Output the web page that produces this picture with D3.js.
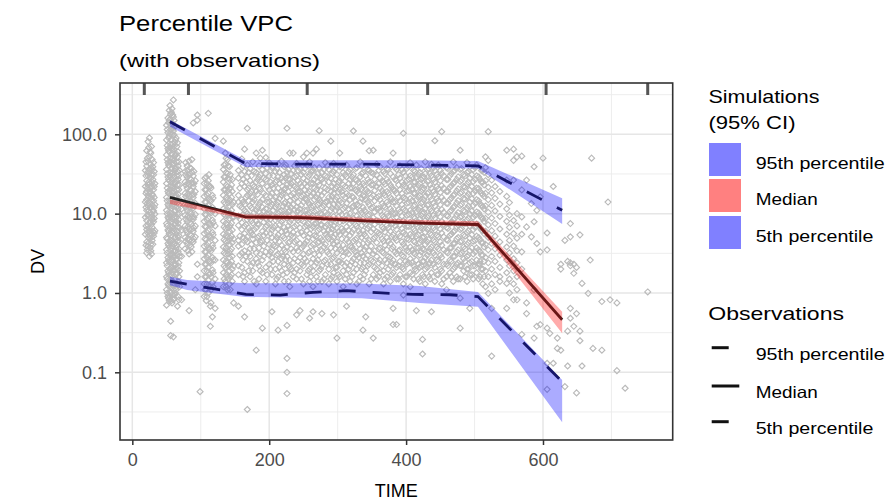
<!DOCTYPE html>
<html><head><meta charset="utf-8">
<script src="https://cdn.jsdelivr.net/npm/d3@7"></script>
<style>body{margin:0;background:#fff}svg{display:block}text{font-family:"Liberation Sans",Arial,sans-serif}</style>
</head><body><svg id="c" width="890" height="502"></svg>
<script>
// ---------- data ----------
const xBreaks = [0, 200, 400, 600];
const xMinor = [100, 300, 500, 700];
const yBreaks = [0.1, 1, 10, 100];
const yLabels = ["0.1", "1.0", "10.0", "100.0"];
const yMinor = [0.0316, 0.316, 3.16, 31.6, 316];
const binEdges = [17.5, 82, 255.5, 431.5, 604.5, 753];

// observed percentiles
const obs95T = [55, 165, 250, 335, 420, 505, 628];
const obs95V = [144, 43, 42, 42, 41, 40, 11];
const obs50T = [55, 165, 250, 340, 420, 505, 628];
const obs50V = [16, 9.1, 8.9, 8.1, 7.6, 7.3, 0.46];
const obs5T = [55, 116, 166, 216, 264, 313, 364, 410, 464, 505, 628];
const obs5V = [1.41, 1.14, 0.96, 0.94, 1.02, 1.07, 1.0, 0.96, 0.95, 0.90, 0.076];

// simulated 95% CI bands
const sim95T = [55, 165, 250, 335, 420, 505, 628];
const sim95Lo = [125, 38.7, 38, 38, 37.5, 37, 7.4];
const sim95Hi = [152, 47.4, 47, 47, 47, 46, 15.6];
const sim50T = [55, 165, 250, 335, 420, 505, 628];
const sim50Lo = [13.2, 8.55, 8.4, 7.8, 7.3, 6.9, 0.31];
const sim50Hi = [15.1, 9.75, 9.6, 8.9, 8.3, 8.0, 0.58];
const sim5T = [55, 80, 165, 250, 335, 420, 505, 628];
const sim5Lo = [1.25, 1.09, 0.89, 0.87, 0.86, 0.75, 0.67, 0.0235];
const sim5Hi = [1.6, 1.46, 1.33, 1.33, 1.32, 1.22, 1.03, 0.080];

// observations: [time, [DV values]]
const obsColumns = [
 [19,[5.5,9,14,22,35]],[20,[4,7,12,18,30,45]],
 [21,[3.2,4.4,6.3,8.2,11,15,19,26,40,62]],[22,[3.5,5.8,9.5,13.5,21,33,50]],
 [23,[3.9,5.1,7.1,9.6,12.5,17,23,30,46,81]],[24,[4.3,6.6,10.8,16,25,36,68]],
 [25,[2.9,4.8,6,7.6,10.2,13.5,18,24,33,52,90]],[26,[3.7,5.2,8,12,19,29,42,60]],
 [27,[3.4,4.1,5.6,8.8,11.8,16,21,28,38,58]],[28,[3.1,5,7.3,10,15,22,31,70]],
 [29,[4.6,6.7,9.2,12.8,17.5,25,36,48]],[30,[4.1,6,8.4,11,17,27,39]],
 [31,[5.2,7.9,10.8,14.5,20,31,44]],[32,[5.7,8.7,12,16,22,34]],
 [33,[6.1,9.9,13,24]],
 [50,[0.7,1.1,1.6,2.4,3.5,5,7.5,11,16,24,36,55,85,130]],
 [51,[1,1.5,2.2,3.2,4.8,7,10,14.5,21,32,48,72,115]],
 [52,[0.9,1.3,1.9,2.8,4.2,6.2,9,13,19,29,44,66,105,160]],
 [53,[0.85,1.25,1.8,2.6,4,6,8.6,12.5,18,27,41,62,90,140]],
 [54,[0.8,1.2,1.7,2.5,3.8,5.6,8.2,12,18,26,40,60,95,150,200]],
 [55,[0.9,1.35,2,3,4.4,6.4,9.4,14,20,30,45,68,100,155,230]],
 [56,[0.29,0.44,1,1.45,2.1,3.1,4.6,6.8,10,15,22,33,50,75,115,180]],
 [57,[0.8,1.2,1.7,2.5,3.7,5.4,8,11.6,17,25,37,56,85,128,190]],
 [58,[0.75,1.15,1.8,2.6,3.9,5.8,8.6,12.5,18.5,27,42,64,100,140,210]],
 [59,[0.95,1.4,2.1,3.1,4.6,6.8,10,15,22,33,50,76,118,175]],
 [60,[0.28,0.82,1.25,2,3,4.4,6.5,9.6,14,21,31,47,70,110,165,271]],
 [61,[0.85,1.3,1.9,2.8,4.1,6,9,13.3,19.5,29,43,65,98,150]],
 [62,[0.95,1.5,2.2,3.3,4.9,7.3,10.8,16,24,35,53,80,125]],
 [63,[1,1.5,2.3,3.4,5,7.5,11,16.5,25,37,55,85]],
 [64,[1.1,1.7,2.6,3.7,5.5,8,12,17,26,38,57,90]],
 [65,[1.2,1.8,2.7,4,6,9,13.5,20,30,45,70]],
 [66,[0.68,1.3,2,3,4.5,6.8,10,15,23,34,52,78]],
 [67,[0.9,1.4,2.2,3.3,5,7.6,11.5,17.5,27,40,60]],
 [68,[0.82,1.6,2.4,3.6,5.3,8.4,13,20,30,45]],
 [69,[1.2,1.9,2.9,4.4,6.6,10,15,23,35]],
 [72,[0.82,2.9,6.2,11.5]],
 [77,[3.6,5,7,9.5,13,18,25,34]],[78,[4.5,6.2,8.6,12,16.5,23,31,44]],
 [80,[4.2,5.8,8,11,15,21,29,40]],[81,[3.4,4.8,6.8,9.3,13,17.5,24,35]],
 [83,[0.6,3.1,4.6,6.4,8.8,12,16.5,23,31,46]],[84,[4,5.5,7.7,10.6,14.5,20,28,38]],
 [86,[3.8,5.3,7.4,10,14,19.5,27,37]],[87,[3.3,4.6,6.4,9,12.5,17,24,33,48]],
 [89,[4.4,6,8.5,11.8,16,22,30,139]],[90,[4.8,6.6,9,12.6,17.5,24,34]],
 [92,[1.1,5.1,7,9.8,13.5,19,26]],
 [95,[1.6,2.3,151,175]],
 [99,[0.057]],
 [105,[0.9,1.3,1.9,2.7,3.9,5.6,8,11.5,16.5,24]],[106,[1.1,1.6,2.3,3.3,4.8,6.9,9.8,14,20,28]],
 [108,[0.8,1.1,1.6,2.3,3.3,4.7,6.8,9.7,14,20,29]],[109,[0.9,1.3,1.9,2.8,4,5.8,8.3,12,17,24]],
 [111,[1,1.45,2.1,3,4.3,6.1,8.8,12.6,18,26,184]],[112,[1.2,1.7,2.5,3.6,5.2,7.5,10.8,15.5,22,31]],
 [114,[0.38,0.68,1.2,1.75,2.5,3.6,5.2,7.4,10.6,15,22]],[115,[0.75,1.1,1.6,2.4,3.4,5,7.1,10.2,14.5,21]],
 [117,[0.5,1.35,1.95,2.8,4,5.8,8.3,12,17]],[118,[1.2,1.8,2.6,3.7,5.4,7.7,11,15.7]],
 [121,[0.64,1.5,2.6,4.6,7,10,89]],
 [133,[1.2,1.8,2.6,3.8,5.5,8,11.5,17,25,36,82]],[134,[1.5,2.2,3.2,4.7,6.8,9.8,14,20,29,41]],
 [136,[1.4,2.1,3.1,4.5,6.5,9.5,13.5,20,29,42,58]],[137,[1.2,1.7,2.5,3.7,5.3,7.6,11,16,23,33,50]],
 [139,[1.1,1.6,2.4,3.4,5,7.2,10.5,15,22,32,48]],[140,[1.5,2.2,3.1,4.5,6.6,9.5,13.7,19.5,28,40]],
 [142,[1.3,1.9,2.8,4.1,6,8.7,12.5,18,27,39]],[143,[1.1,1.6,2.3,3.4,4.9,7.1,10.2,14.8,21,31]],
 [145,[1.7,2.5,3.6,5.2,7.6,11,16,23]],[146,[1.4,2,2.9,4.3,6.2,9,13,19,27]],
 [148,[0.75,2.2,4.8,9,14]],
 [155,[0.68,1.7,2.2,3.9,4.6,7.1,9.3,14,17,28,35]],[157,[3,5.2,8.6,12.5,21]],
 [160,[2.1,3.2,4.1,6.3,7.7,12,15,24,31,49]],[162,[1.6,2.6,5,9.8,14,27,40]],
 [164,[0.5,1.4,1.8,3.4,5.6,6.9,11,13,22,34,65]],[166,[2.9,4.7,7.3,10.5,16,25]],
 [168,[0.034,2.5,4.4,5.1,8.4,10,17,20,29,41,119]],[170,[1.9,3.2,6.6,9,14.5,21,33]],
 [172,[1.6,2.9,3.6,6.1,9.2,12.5,18,26,37]],[174,[2.2,4.1,5.8,8.1,11.8,19,30]],
 [176,[1.9,2.4,4.8,5.4,7.6,14,16,23,45]],[178,[1.4,3.6,6.3,10.2,15,22,34]],
 [181,[0.19,1.3,2.7,3.2,4.3,6.6,8.1,11,19,25,33,58]],[183,[2.4,5,7.4,12,17.5,27]],
 [185,[1.5,2.2,3.7,5.2,7.3,10.5,13,21,29,40]],[187,[1.9,3.1,4.4,9.3,14,20.5,31,50]],
 [190,[0.36,1.8,2.6,4.5,6,9,12,15,24,36,63]],[192,[2.9,3.9,5.3,7.8,10.8,18,28]],
 [195,[1.4,2.1,3.3,5.7,6.8,8.6,11.5,17,27,32,51]],[197,[1.7,4.6,7.1,9.9,14,22,38]],
 [200,[2.3,3,4.1,7.5,10,14,20,30,44]],[202,[2,3.3,5.6,8.5,12.4,16.5,25,35]],
 [204,[0.58,1.7,2.8,3.5,5,6.2,9.6,13,18,23,38]],[206,[2.5,4,6.7,11,15,21,30]],
 [209,[1.3,2,3.9,4.6,7,8.3,12,16,25,34]],[211,[1.5,3,5,9,13,18.5,26,37]],
 [213,[0.34,1.6,2.5,3.1,5.4,6.4,10,14,21,29,42]],[215,[2.1,3.6,4.4,7.2,10.7,15.5,24,33]],
 [218,[1.9,2.7,4,5.9,7.9,11,17,19,28,46]],[220,[1.7,2.9,5.2,8.3,12.3,18,25.5]],
 [222,[1.4,2.3,3.5,4.9,6.7,9.4,13.5,20,31,39]],[224,[2.6,3.3,6.1,9.9,14,21,28,41]],
 [226,[0.054,0.1,0.15,0.39,1.8,2.9,3.8,5.5,8.8,12,16,23,33,119]],[228,[1.4,2.2,4.3,7,10.5,13,19,27.5,36]],
 [230,[1.2,2.1,2.6,4.4,6.3,7.8,11,14.5,22,27,58]],[232,[2,3.6,5.3,8.4,12,17,24,32]],
 [235,[1.6,2.4,3.3,5.1,5.8,9.8,13,18,25,35,58]],[237,[1.8,2.7,4.4,6.9,11.2,15.5,22,29,40]],
 [240,[0.53,1.5,2,3.7,4.6,7.2,8.7,12,16,21,30,43]],[242,[2.5,3.4,5.6,8.2,10.8,14,19,26,35]],
 [245,[0.6,1.9,2.8,4.2,6.6,10,11.5,19,24,37]],[247,[1.5,2.3,3.7,5.8,8.3,12.8,16.5,22,31]],
 [250,[1.3,2.2,3.1,3.9,5.3,8,9.4,14,17,28,33,52]],[252,[2.7,4.2,6.8,11,15.5,20,24,37]],
 [255,[1.7,2.5,4.5,6.1,7.1,11,15,22,26,41,58]],[257,[1.9,3.2,5,7.6,9.8,13.8,18,29,40]],
 [259,[0.48,1.4,2,3.3,5.6,8.5,10.2,13,19,31,45]],[261,[1.6,2.4,3.9,6.4,9.1,12.2,16.8,24,34]],
 [264,[0.58,1.2,1.9,2.7,4.1,4.8,6.8,9.5,12.5,18,24,35,58]],[266,[2.2,3.1,5.3,7.4,10.6,15,21,27,38]],
 [269,[1.6,2.4,3.6,5.2,7.6,11,16,20,29,65]],[271,[1.4,2.6,4.3,6.1,8.7,13,17.5,25,32]],
 [273,[1.9,3,4.4,6.4,8.2,13.5,15,23,38,111]],[275,[2,3.5,4.9,7.2,10,14.2,19.5,28]],
 [277,[0.55,1.4,2.2,3.4,4.6,7.2,9.8,12,17,27,33]],[280,[1.5,2.5,3.8,6,8.9,12.5,18.5,24.5,36]],
 [282,[1.7,2.6,4.1,5.5,6.9,10.4,14,21,30,44]],[285,[2.3,3.3,5.1,7.3,9.8,14.3,20,29,40]],
 [287,[1.3,2,3.1,4.8,6.2,8.9,12.8,16,25,36]],[290,[1.5,2.3,3.7,5.8,7.5,11,15,19,28,82]],
 [292,[1.6,2.7,4.6,6.4,8.2,11.8,16.5,22,32]],[294,[0.53,1.8,2.8,4.2,5,7,9.2,13,18,24,34,43]],
 [297,[2.1,3.6,5.5,7.9,11,15,21,27,37]],[299,[0.27,1.4,2.1,3.2,4.4,6.6,8.3,12,16,22,31]],
 [301,[1.7,2.5,4,5.9,9.1,13,18.7,25]],[303,[1.6,2.5,3.5,5.4,7.8,10.5,14.5,20,26,39,58]],
 [306,[2.4,3.4,4.8,6.5,9.8,13.8,19,28,38]],[308,[1.2,1.9,2.9,4,6,8.1,11.5,17,23,33]],
 [311,[1.5,2.2,3.6,5.6,8.4,12,16,22,31]],[313,[0.68,1.7,2.4,3.3,4.7,6.8,9.6,13.5,18,29,41]],
 [316,[2,3.1,4.4,6.2,9,11.5,17,24,34]],[318,[1.4,2.2,3.9,5.3,7.5,10,15,21,27,36]],
 [321,[1.6,2.5,3.8,5.8,8,12,16.5,21,29]],[323,[1.8,2.7,3.5,4.5,6.3,8.7,12.5,16,24,31,110]],
 [326,[2.3,3.3,4.7,7.3,10.8,14.5,20,27,37]],[328,[1.3,2,3,4.9,7,9.3,13,19,26,38]],
 [331,[1.4,2.8,4.1,6,8.6,12.6,18,24.5]],[333,[1.6,2.4,3.6,5.6,8.2,11,14,22,29,45]],
 [335,[2,3.2,5,7.1,10.3,15.5,20.5,32,40]],[337,[0.34,1.5,2.1,2.9,4.2,6.1,8.6,12,17,24,33,82]],
 [339,[1.7,2.4,3.5,5.5,7.8,11,16.5,22.5]],[341,[0.5,1.9,2.7,3.8,5.2,7.4,10.5,15,20,30]],
 [344,[2.2,3,4.3,6.5,9.5,14,19,27,36]],[346,[1.3,2.3,3.4,4.6,6.9,9.8,13,18,25,35,62]],
 [349,[1.5,2.6,3.9,5.9,8.2,11.8,16,23,33]],[352,[0.27,1.7,2.5,3.1,4.8,6.4,8.9,12,17,23,32,63]],
 [354,[2.1,3.4,5,7.3,10.5,14.5,19.5,27]],[357,[1.5,2,2.9,4.3,5.9,8.2,11.5,16,22,31,42]],
 [360,[1.6,2.4,3.6,5.7,8,11.6,16.5,24,35]],[362,[1.8,2.6,3.7,5.4,7.7,10.8,15,21,28,39]],
 [365,[2.2,3.3,4.8,6.8,9.6,13.5,19.5,26]],[367,[1.3,1.9,3.2,4.5,6.5,9.1,12.5,18,25,34]],
 [369,[1.5,2.6,4,5.9,8.7,12,17,23.5,32]],[372,[1.6,2.4,3.5,5,7.1,10,14,19,27,37]],
 [374,[2,2.9,4.5,6.6,9.3,13,18,25,36]],[377,[1.4,2.2,2.8,4.2,6,8.4,11.5,16,23,32,45]],
 [379,[1.7,2.4,3.6,5.1,7.4,10.7,15.3,21.5]],[381,[0.4,0.64,1.8,2.6,3.8,5.4,7.5,10,14,20,29,58]],
 [384,[2.3,3.3,4.9,7,10,14,19.5,27,38]],[386,[0.4,1.5,2.1,3.1,4.6,6.3,9,12.5,18,26,36]],
 [389,[1.5,2.2,3.4,5.6,8,11.3,16,23,31]],[391,[1.7,2.5,3.5,5.2,7.2,10.5,14.5,20,28,40]],
 [394,[2.1,3,4.4,6.5,9.3,13,18,25,36]],[396,[0.94,1.3,2,2.9,4.1,5.8,8.1,11.5,16,23,33,103]],
 [399,[1.6,2.5,3.8,5.5,7.6,11,15.5,22,30]],[401,[1.6,2.3,3.4,4.8,6.9,9.5,13.5,19,26,37]],
 [404,[2.4,3.3,4.7,6.9,9.8,13.8,19.5,27,39]],[406,[1.2,1.8,2.7,3.8,5.5,7.8,11,15.5,22,30,44]],
 [409,[1.7,2.4,3.5,5.2,7.4,10.4,14.6,20.5,29]],[411,[1.5,2.2,3.2,4.5,6.4,9,12.5,18,25,35]],
 [413,[2,3.1,4.4,6.1,8.8,12.8,18,25,34]],[415,[0.6,1.9,2.6,3.7,5.2,7.4,10.5,15,21,29,41]],
 [418,[1.5,2.3,3.7,5.4,7.8,11.2,16,22.5,31]],[420,[1.4,2.1,3,4.3,6.1,8.6,12,17,24,33]],
 [422,[2.2,3.3,4.6,6.6,9.5,13.5,19,27,37]],[424,[0.17,0.26,1.7,2.5,3.6,5,7.1,10,14,20,28]],
 [426,[1.6,2.5,3.5,5.1,7.3,10.4,15,21,29]],[428,[1.3,2,2.8,4.1,5.8,8.2,11.5,16.5,23,32,45]],
 [431,[2.1,3,4.4,6.3,9,12.8,18,25.5,36]],[433,[1.6,2.3,3.3,4.7,6.6,9.4,13,18.5,26,37]],
 [435,[1.5,2.4,3.6,5.6,8,11.4,16.3,23,32]],[437,[0.58,1.8,2.6,3.8,5.4,7.6,10.8,15,21,30,42]],
 [440,[2.3,3.2,4.6,6.6,9.5,13.6,19,27,38]],[442,[1.4,2.1,3,4.4,6.2,8.8,12.5,17.5,25,35,83]],
 [445,[1.7,2.6,3.8,5.3,7.7,11,15.6,22,31]],[447,[1.7,2.5,3.6,5.1,7.2,10.2,14.5,20.5,29,41]],
 [450,[2,3,4.4,6.4,9.1,12.9,18.5,26,35]],[452,[1.3,1.9,2.8,4,5.7,8,11.3,16,22.5,32,108]],
 [455,[1.5,2.3,3.5,5.1,7.3,10.4,14.8,21,30]],[459,[1.1,1.6,2.3,3.3,4.7,6.7,9.5,13.5,19,27,38]],
 [461,[2.2,3.2,4.6,6.5,9.3,13.4,19,27,37]],[464,[1.8,2.6,3.7,5.3,7.5,10.6,15,21.5,30]],
 [466,[1.6,2.5,3.7,5.5,7.8,11,15.8,22.5,32]],[469,[1.4,2,2.9,4.2,5.9,8.4,12,17,24,34,45]],
 [471,[2.1,2.9,4.2,6.1,8.7,12.4,17.5,25,35]],[474,[1.6,2.3,3.3,4.8,6.8,9.6,13.6,19.3,27,38]],
 [476,[1.5,2.4,3.5,5,7.2,10.3,14.6,20.5,29]],[479,[0.36,0.86,1.5,2.2,3.1,4.4,6.3,9,12.7,18,25.5,36,63]],
 [481,[2.2,3.2,4.5,6.5,9.2,13.2,18.6,26.5,37]],[484,[1.9,2.7,3.8,5.4,7.7,10.9,15.5,22,31]],
 [486,[1.6,2.5,3.6,5.2,7.5,10.6,15.2,21.5,30]],[489,[1.4,2,2.9,4.1,5.8,8.3,11.7,16.6,23.5,33,44]],
 [491,[2,3,4.3,6.1,8.8,12.5,17.8,25,34]],[493,[0.64,1.7,2.4,3.4,4.9,7,9.9,14,19.8,28]],
 [496,[1.7,2.5,3.7,5.4,7.6,10.8,15.4,22,31]],[498,[1.5,2.2,3.1,4.5,6.3,9,12.7,18,25.5,36]],
 [501,[2.2,3.3,4.6,6.7,9.5,13.6,19.3,27,38]],[503,[1.8,2.6,3.7,5.2,7.4,10.5,15,21,30,41]],
 [506,[1.5,2.3,3.5,5,7.2,10.2,14.5,20.7,29]],[508,[1.6,2.3,2.5,3.3,4.7,6.6,9.4,13.3,19,27]],
 [510,[2,3,4.3,6.2,8.9,12.6,18,25,35]],[512,[1.3,2,3,4.3,6.1,8.7,12.3,17.5,25,35]],
 [514,[1.6,2.5,3.8,5.6,8,11.5,16.5,23,33]],[516,[1.2,1.9,2.8,4.1,6,8.7,12.5,18,26,38,52]],
 [520,[0.99,1.6,2.4,3.5,5,7.2,10.4,15,21.5,31,47,108]],
 [525,[0.16,0.64,1.3,2,2.9,4.2,6.1,8.8,12.7,18.3,26.5]],
 [530,[1.1,1.7,2.5,3.6,5.2,7.5,10.8,15.6,22]],
 [537,[1.6,1.4,2.1,3,4.4,6.4,9.2,13.2,19]],
 [547,[0.64,1.32,1.8,2.6,3.8,5.5,8,11.5,16.5,26.5,63]],
 [551,[1,1.5,2.2,3.2,4.6,6.7,9.6,13.8]],
 [557,[0.82,1.3,1.9,2.7,3.9,5.6,8.2,26.5,47,65]],
 [562,[0.82,1.1,1.6,2.4,3.4,4.9,7,10,52]],
 [569,[0.3,2,3.3,5.5,9.1,19.9,53]],
 [576,[0.55,0.75,6.8,26.5]],
 [583,[5.1,13.4]],
 [587,[0.27,1.1,7.9,39]],
 [591,[0.38,4.2,11]],
 [596,[3.3,16.3,0.4]],
 [600,[50]],
 [606,[0.061,0.13,0.36,3.5,5.7]],
 [610,[0.31]],
 [615,[0.13,22]],
 [621,[0.2,0.27]],
 [626,[0.19,2,2.3]],
 [632,[0.066,4.6]],
 [636,[0.12,0.33,2.5]],
 [640,[0.48,0.64,2.2,2.4,5.1,7.5]],
 [645,[0.38,1.77,2.3]],
 [649,[0.055,0.55,2.1]],
 [654,[0.25,0.33,5.4]],
 [657,[0.12,1.32]],
 [666,[0.99]],
 [669,[2.6]],
 [671,[50]],
 [673,[0.2]],
 [686,[0.19,0.78]],
 [695,[14]],
 [698,[0.82]],
 [708,[0.105,0.75]],
 [720,[0.063]],
 [753,[1.03]]
];

// ---------- layout ----------
const svg = d3.select("#c");
const P = {l: 120, r: 672.7, t: 83, b: 440};
const x = d3.scaleLinear().domain([-18, 789.5]).range([P.l, P.r]);
const y = d3.scaleLog().domain([0.01402, 443.3]).range([P.b, P.t]);

svg.append("defs").append("clipPath").attr("id", "pc")
  .append("rect").attr("x", P.l).attr("y", P.t).attr("width", P.r - P.l).attr("height", P.b - P.t);

const grid = svg.append("g");
xMinor.forEach(v => grid.append("line").attr("x1", x(v)).attr("x2", x(v)).attr("y1", P.t).attr("y2", P.b).attr("stroke", "#ebebeb").attr("stroke-width", 0.9));
yMinor.forEach(v => { if (v < 443) grid.append("line").attr("y1", y(v)).attr("y2", y(v)).attr("x1", P.l).attr("x2", P.r).attr("stroke", "#ebebeb").attr("stroke-width", 0.9); });
xBreaks.forEach(v => grid.append("line").attr("x1", x(v)).attr("x2", x(v)).attr("y1", P.t).attr("y2", P.b).attr("stroke", "#e6e6e6").attr("stroke-width", 1.5));
yBreaks.forEach(v => grid.append("line").attr("y1", y(v)).attr("y2", y(v)).attr("x1", P.l).attr("x2", P.r).attr("stroke", "#e6e6e6").attr("stroke-width", 1.5));

const plot = svg.append("g").attr("clip-path", "url(#pc)");

// observations scatter
const pts = [];
obsColumns.forEach(([t, vals]) => vals.forEach(v => pts.push([t, v])));
plot.append("g").selectAll("path").data(pts).join("path")
  .attr("transform", d => `translate(${x(d[0])},${y(d[1])})`)
  .attr("d", "M0,-3L3,0L0,3L-3,0Z")
  .attr("fill", "none").attr("stroke", "#bababa").attr("stroke-width", 1.15);

// observed percentile lines
const line = d3.line().x(d => x(d[0])).y(d => y(d[1]));
const zip = (a, b) => a.map((v, i) => [v, b[i]]);
plot.append("path").attr("d", line(zip(obs95T, obs95V))).attr("fill", "none").attr("stroke", "#222").attr("stroke-width", 2.8).attr("stroke-dasharray", "17,17");
plot.append("path").attr("d", line(zip(obs50T, obs50V))).attr("fill", "none").attr("stroke", "#222").attr("stroke-width", 2.8);
plot.append("path").attr("d", line(zip(obs5T, obs5V))).attr("fill", "none").attr("stroke", "#222").attr("stroke-width", 2.8).attr("stroke-dasharray", "17,17");

// simulated CI ribbons
const area = d3.area().x(d => x(d[0])).y0(d => y(d[1])).y1(d => y(d[2]));
const z3 = (t, lo, hi) => t.map((v, i) => [v, lo[i], hi[i]]);
plot.append("path").attr("d", area(z3(sim95T, sim95Lo, sim95Hi))).attr("fill", "#0000ff").attr("fill-opacity", 0.33);
plot.append("path").attr("d", area(z3(sim50T, sim50Lo, sim50Hi))).attr("fill", "#ff0000").attr("fill-opacity", 0.33);
plot.append("path").attr("d", area(z3(sim5T, sim5Lo, sim5Hi))).attr("fill", "#0000ff").attr("fill-opacity", 0.33);

// bin rug at top
plot.append("g").selectAll("line").data(binEdges).join("line")
  .attr("x1", d => x(d)).attr("x2", d => x(d)).attr("y1", P.t).attr("y2", P.t + 12)
  .attr("stroke", "#555").attr("stroke-width", 3);

// panel border
svg.append("rect").attr("x", P.l).attr("y", P.t).attr("width", P.r - P.l).attr("height", P.b - P.t)
  .attr("fill", "none").attr("stroke", "#333").attr("stroke-width", 1.6);

// axes
const xAxis = svg.append("g").attr("transform", `translate(0,${P.b})`)
  .call(d3.axisBottom(x).tickValues(xBreaks).tickSize(5).tickPadding(4).tickFormat(d3.format("d")));
const yAxis = svg.append("g").attr("transform", `translate(${P.l},0)`)
  .call(d3.axisLeft(y).tickValues(yBreaks).tickSize(5).tickPadding(8).tickFormat((d, i) => yLabels[i]));
[xAxis, yAxis].forEach(a => {
  a.select(".domain").remove();
  a.selectAll(".tick line").attr("stroke", "#333").attr("stroke-width", 1.5);
  a.selectAll(".tick text").attr("fill", "#4d4d4d").style("font-size", "18px").style("font-family", "Liberation Sans, Arial, sans-serif");
});
xAxis.selectAll(".tick text").attr("dy", "0.95em");

// titles
svg.append("text").attr("x", 119).attr("y", 31).style("font-size", "22px").attr("fill", "#000")
  .attr("textLength", 174).attr("lengthAdjust", "spacingAndGlyphs").text("Percentile VPC");
svg.append("text").attr("x", 119).attr("y", 67).style("font-size", "19px").attr("fill", "#000")
  .attr("textLength", 201).attr("lengthAdjust", "spacingAndGlyphs").text("(with observations)");
svg.append("text").attr("x", (P.l + P.r) / 2).attr("y", 497).attr("text-anchor", "middle").style("font-size", "18px")
  .text("TIME");
svg.append("text").attr("transform", `translate(44,${(P.t + P.b) / 2}) rotate(-90)`).attr("text-anchor", "middle").style("font-size", "18px")
  .text("DV");

// legend
const L = svg.append("g");
L.append("text").attr("x", 708.5).attr("y", 103).style("font-size", "19px").attr("textLength", 111).attr("lengthAdjust", "spacingAndGlyphs").text("Simulations");
L.append("text").attr("x", 708.5).attr("y", 129).style("font-size", "19px").attr("textLength", 87).attr("lengthAdjust", "spacingAndGlyphs").text("(95% CI)");
const simKeys = [["95th percentile", "#8080ff", 143, 129], ["Median", "#ff8080", 179, 62], ["5th percentile", "#8080ff", 216, 117.7]];
simKeys.forEach(([lab, col, yy, w]) => {
  L.append("rect").attr("x", 709).attr("y", yy).attr("width", 32).attr("height", 33).attr("fill", col);
  L.append("text").attr("x", 755.7).attr("y", yy + 26).style("font-size", "16.5px").attr("textLength", w).attr("lengthAdjust", "spacingAndGlyphs").text(lab);
});
L.append("text").attr("x", 708.3).attr("y", 320).style("font-size", "19px").attr("textLength", 135.7).attr("lengthAdjust", "spacingAndGlyphs").text("Observations");
const obsKeys = [["95th percentile", 347.7, true, 129], ["Median", 386, false, 62], ["5th percentile", 421.7, true, 117.7]];
obsKeys.forEach(([lab, yy, dashed, w]) => {
  L.append("line").attr("x1", 711.7).attr("x2", 739.3).attr("y1", yy).attr("y2", yy).attr("stroke", "#111").attr("stroke-width", 3)
    .attr("stroke-dasharray", dashed ? "17,17" : null);
  L.append("text").attr("x", 755.7).attr("y", yy + 12).style("font-size", "16.5px").attr("textLength", w).attr("lengthAdjust", "spacingAndGlyphs").text(lab);
});
</script></body></html>
